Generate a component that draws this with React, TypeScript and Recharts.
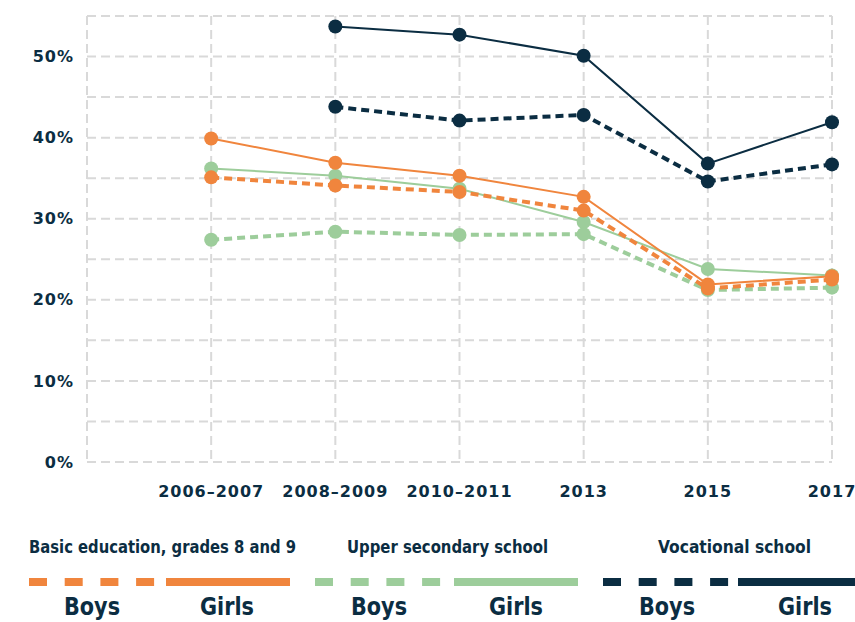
import React from "react";
import { LineChart, Line, XAxis, YAxis, CartesianGrid } from "recharts";

const categories = ["", "2006–2007", "2008–2009", "2010–2011", "2013", "2015", "2017"];
const basicBoys = [35.1, 34.1, 33.3, 31.0, 21.4, 22.5];
const basicGirls = [39.9, 36.9, 35.3, 32.7, 21.9, 22.9];
const upperBoys = [27.4, 28.4, 28.0, 28.1, 21.2, 21.5];
const upperGirls = [36.2, 35.3, 33.7, 29.6, 23.8, 23.0];
const vocBoys: (number | null)[] = [null, 43.8, 42.1, 42.8, 34.6, 36.7];
const vocGirls: (number | null)[] = [null, 53.7, 52.7, 50.1, 36.8, 41.9];
const yTicks = [0, 5, 10, 15, 20, 25, 30, 35, 40, 45, 50, 55];
const xTicks = [0, 1, 2, 3, 4, 5, 6];

const NAVY = "#0b2d42";
const ORANGE = "#f0853d";
const GREEN = "#9dcd9b";

const data = categories.slice(1).map((c, i) => ({
  x: i + 1,
  bBoys: basicBoys[i],
  bGirls: basicGirls[i],
  uBoys: upperBoys[i],
  uGirls: upperGirls[i],
  vBoys: vocBoys[i],
  vGirls: vocGirls[i],
}));

const legendGroups = [
  { title: "Basic education, grades 8 and 9", color: ORANGE, titleX: 29, titleW: 267, dashX: 29, solidX: 166, solidW: 124, boysC: 92, girlsC: 227 },
  { title: "Upper secondary school", color: GREEN, titleX: 347, titleW: 201, dashX: 315, solidX: 454, solidW: 124, boysC: 379, girlsC: 516 },
  { title: "Vocational school", color: NAVY, titleX: 658, titleW: 153, dashX: 603, solidX: 738, solidW: 117, boysC: 667, girlsC: 805 },
];

const tickFont = { fontFamily: "'DejaVu Sans', sans-serif", fontWeight: 700, fontSize: 16, fill: NAVY, letterSpacing: 1 };
const legendFont = "'Liberation Sans Narrow', 'DejaVu Sans Condensed', 'DejaVu Sans', sans-serif";

function Legend() {
  return (
    <svg width={855} height={122} style={{ position: "absolute", left: 0, top: 500 }}>
      {legendGroups.map((g) => (
        <g key={g.title}>
          <text x={g.titleX} y={53} textLength={g.titleW} lengthAdjust="spacingAndGlyphs"
            fontFamily={legendFont} fontWeight={700} fontSize={17} fill={NAVY}>{g.title}</text>
          <line x1={g.dashX} x2={g.dashX + 126} y1={82} y2={82} stroke={g.color} strokeWidth={8} strokeDasharray="18 17.7" />
          <line x1={g.solidX} x2={g.solidX + g.solidW} y1={82} y2={82} stroke={g.color} strokeWidth={8} />
          <text x={g.boysC - 28} y={115} textLength={56} lengthAdjust="spacingAndGlyphs"
            fontFamily={legendFont} fontWeight={700} fontSize={24} fill={NAVY}>Boys</text>
          <text x={g.girlsC - 27} y={115} textLength={54} lengthAdjust="spacingAndGlyphs"
            fontFamily={legendFont} fontWeight={700} fontSize={24} fill={NAVY}>Girls</text>
        </g>
      ))}
    </svg>
  );
}

const dot = (c: string) => ({ r: 7, fill: c, stroke: "none" });

export default function App() {
  return (
    <div style={{ position: "absolute", left: 0, top: 0, width: 855, height: 622, background: "#fff", overflow: "hidden" }}>
      <LineChart width={855} height={500} data={data} margin={{ top: 16, right: 23, bottom: 8, left: 0 }}>
        <CartesianGrid stroke="#d9d9d9" strokeWidth={2} strokeDasharray="9 5" />
        <XAxis dataKey="x" type="number" domain={[0, 6]} ticks={xTicks} interval={0}
          tickFormatter={(v: number) => categories[v] ?? ""} axisLine={false} tickLine={false}
          tickSize={0} tickMargin={24} height={30} tick={tickFont} />
        <YAxis type="number" domain={[0, 55]} ticks={yTicks} interval={0} width={87}
          tickFormatter={(v: number) => (v % 10 === 0 ? `${v}%` : "")} axisLine={false} tickLine={false}
          tickSize={0} tickMargin={13} tick={tickFont} />
        <Line dataKey="vGirls" stroke={NAVY} strokeWidth={2} dot={dot(NAVY)} activeDot={false} isAnimationActive={false} />
        <Line dataKey="vBoys" stroke={NAVY} strokeWidth={4} strokeDasharray="8 5" dot={dot(NAVY)} activeDot={false} isAnimationActive={false} />
        <Line dataKey="uGirls" stroke={GREEN} strokeWidth={2} dot={dot(GREEN)} activeDot={false} isAnimationActive={false} />
        <Line dataKey="uBoys" stroke={GREEN} strokeWidth={4} strokeDasharray="8 5" dot={dot(GREEN)} activeDot={false} isAnimationActive={false} />
        <Line dataKey="bGirls" stroke={ORANGE} strokeWidth={2} dot={dot(ORANGE)} activeDot={false} isAnimationActive={false} />
        <Line dataKey="bBoys" stroke={ORANGE} strokeWidth={4} strokeDasharray="8 5" dot={dot(ORANGE)} activeDot={false} isAnimationActive={false} />
      </LineChart>
      <Legend />
    </div>
  );
}
